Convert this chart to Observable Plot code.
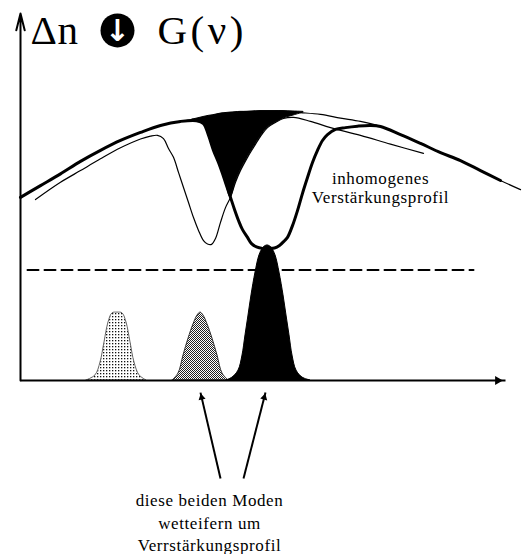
<!DOCTYPE html>
<html>
<head>
<meta charset="utf-8">
<script src="https://cdn.jsdelivr.net/npm/d3@7"></script>
<script src="https://cdn.jsdelivr.net/npm/@observablehq/plot@0.6"></script>
<style>
  html, body { margin: 0; padding: 0; background: #fff; overflow: hidden; }
</style>
</head>
<body>
<div id="chart"></div>
<script>
// Frequency ν in arbitrary units (0–100) and gain / inversion Δn in arbitrary units (0–100).

// Inhomogeneous gain profile G(ν)
const envelopeNu   = [0, 4, 8, 12, 16, 20, 24, 28, 32, 36, 40, 44, 48, 52, 56, 60, 64, 68, 72, 76, 80, 84, 88, 92, 96, 100];
const envelopeGain = [49.9, 53.1, 56.3, 59.7, 62.7, 65.4, 67.6, 69.5, 70.6, 71.5, 72.6, 73.2, 73.4, 73.4, 73.0, 72.5, 71.5, 70.6, 69.2, 67.0, 64.6, 62.1, 59.9, 57.2, 54.5, 52.0];

// Hole burnt by the strong (oscillating) mode
const holeStrongNu   = [35.2, 36.6, 37.6, 38.6, 39.6, 40.4, 41.2, 42.0, 42.8, 43.6, 44.4, 45.4, 46.2, 47.2, 48.4, 49.6, 50.8, 51.8, 52.8, 53.4, 54.4, 55.4, 56.4, 57.4, 58.4, 59.4, 60.4, 61.4, 63.0, 65.0, 67.4, 70.0];
const holeStrongGain = [70.8, 70.0, 66.8, 62.7, 59.4, 56.4, 53.1, 49.9, 46.6, 43.6, 41.1, 39.0, 37.3, 36.4, 36.0, 36.0, 36.1, 36.8, 38.1, 39.0, 42.2, 46.3, 51.0, 55.3, 59.4, 62.7, 65.4, 67.0, 68.4, 68.9, 69.3, 69.5];

// Gain profile with the hole of the neighbouring mode
const holeWeakNu   = [3.0, 8.0, 12.0, 16.0, 20.0, 24.0, 26.0, 27.4, 28.6, 29.6, 30.6, 31.6, 32.6, 33.6, 34.6, 35.6, 36.6, 37.4, 38.2, 39.0, 40.0, 41.0, 42.0, 43.0, 44.0, 45.4, 46.6, 48.0, 49.4, 51.0, 52.6, 54.6, 58.0, 62.0, 68.0, 74.0, 80.6];
const holeWeakGain = [49.3, 54.0, 57.2, 60.4, 63.4, 65.8, 66.6, 66.8, 65.9, 63.2, 60.8, 56.7, 52.6, 48.5, 44.4, 40.9, 38.1, 37.2, 37.1, 38.7, 43.1, 47.1, 49.9, 54.0, 57.2, 60.8, 63.5, 66.5, 68.9, 70.3, 71.4, 71.7, 70.6, 68.9, 66.8, 64.4, 61.9];

// Gain removed by both holes together
const overlapNu   = [34.4, 35.4, 36.6, 37.6, 38.6, 39.6, 40.4, 41.2, 42.0, 43.0, 44.0, 45.4, 46.6, 48.0, 49.4, 51.0, 52.6, 54.6, 56.6];
const overlapLow  = [71.1, 70.8, 70.0, 66.8, 62.7, 59.4, 56.4, 53.1, 49.9, 54.0, 57.2, 60.8, 63.5, 66.5, 68.9, 70.3, 71.4, 72.2, 73.0];
const overlapHigh = [71.1, 71.4, 71.8, 72.1, 72.3, 72.6, 72.8, 72.9, 73.0, 73.1, 73.2, 73.2, 73.3, 73.4, 73.4, 73.4, 73.4, 73.3, 73.2];

// Laser threshold
const thresholdNu   = [1.4, 90.6];
const thresholdGain = [30.1, 30.1];

// Longitudinal modes
const mode1Nu  = [13.2, 15.0, 16.0, 16.8, 17.6, 18.4, 19.4, 20.4, 21.2, 22.0, 22.8, 23.8, 25.2];
const mode1Amp = [0, 1.4, 4.9, 10.4, 15.8, 18.3, 18.5, 18.3, 15.8, 10.4, 4.9, 1.4, 0];
const mode2Nu  = [30.4, 31.6, 32.6, 33.6, 34.6, 35.4, 36.0, 36.6, 37.4, 38.4, 39.4, 40.4, 41.6];
const mode2Amp = [0, 1.9, 6.8, 11.4, 15.3, 17.7, 18.5, 17.7, 15.3, 11.4, 6.8, 1.9, 0];
const mode3Nu  = [41.2, 42.4, 43.6, 44.4, 45.0, 45.6, 46.2, 47.0, 47.8, 48.6, 49.4, 50.2, 51.0, 51.8, 52.6, 53.2, 53.8, 54.4, 55.2, 56.4, 58.0];
const mode3Amp = [0, 0.8, 2.7, 6.8, 12.3, 17.7, 23.2, 29.4, 34.1, 36.2, 36.8, 36.2, 34.1, 29.4, 23.2, 17.7, 12.3, 6.8, 2.7, 0.8, 0];

// Texts
const titleLeft = "Δn";
const titleRight = "G(ν)";
const profileLabel = "inhomogenes\nVerstärkungsprofil";
const captionLabel = "diese beiden Moden\nwetteifern um\nVerrstärkungsprofil";

// ---- layout ----
const W = 523, H = 554;
const M = {left: 20, right: 3, top: 13, bottom: 174};
const pxPerX = (W - M.left - M.right) / 100;
const pxPerY = (H - M.top - M.bottom) / 100;

// ---- tables built from the arrays above ----
const pts = (xs, ys) => xs.map((x, i) => ({x, y: ys[i]}));
const envelope = pts(envelopeNu, envelopeGain);
const holeWeak = pts(holeWeakNu, holeWeakGain);
// the bold profile: envelope outside the strong hole, the hole itself inside
const holeStrong = [
  ...envelope.filter(d => d.x < holeStrongNu[0]),
  ...pts(holeStrongNu, holeStrongGain),
  ...envelope.filter(d => d.x > holeStrongNu[holeStrongNu.length - 1] && d.x <= 96)
];
const overlap = overlapNu.map((x, i) => ({x, low: overlapLow[i], high: overlapHigh[i]}));
const threshold = pts(thresholdNu, thresholdGain);
const mode1 = pts(mode1Nu, mode1Amp);
const mode2 = pts(mode2Nu, mode2Amp);
const mode3 = pts(mode3Nu, mode3Amp);

// axis arrows and the two pointers under the frequency axis
const xAxisArrow = [{x1: 0, y1: 0, x2: 97, y2: 0, r: 6.5}];
const yAxisArrow = [{x1: 0, y1: 0, x2: 0, y2: 100}];
const pointers = [
  {x1: 40.0, y1: -26.7, x2: 36.0, y2: -3.3, r: 4.2},
  {x1: 44.6, y1: -26.7, x2: 49.0, y2: -3.3, r: 4.2}
];

// filled triangular arrow heads: centroid placed behind the tip, rotated along the shaft
function heads(arrows) {
  return arrows.map(a => {
    const vx = (a.x2 - a.x1) * pxPerX, vy = -(a.y2 - a.y1) * pxPerY; // screen space
    const len = Math.hypot(vx, vy), ux = vx / len, uy = vy / len;
    const back = 1.2 * a.r; // apex-to-centroid distance of the triangle symbol
    return {
      x: a.x2 - ux * back / pxPerX,
      y: a.y2 + uy * back / pxPerY,
      r: a.r,
      angle: Math.atan2(ux, -uy) * 180 / Math.PI
    };
  });
}

const serif = "'Liberation Serif', 'Times New Roman', 'DejaVu Serif', serif";

const chart = Plot.plot({
  width: W,
  height: H,
  marginLeft: M.left,
  marginRight: M.right,
  marginTop: M.top,
  marginBottom: M.bottom,
  x: {domain: [0, 100], axis: null},
  y: {domain: [0, 100], axis: null},
  style: {background: "#fff", fontFamily: serif, color: "#000", letterSpacing: "0.6px"},
  marks: [
    // modes
    Plot.areaY(mode1, {x: "x", y: "y", curve: "catmull-rom", fill: "url(#stipple-light)", stroke: "#666", strokeWidth: 1}),
    Plot.areaY(mode2, {x: "x", y: "y", curve: "catmull-rom", fill: "url(#stipple-dense)", stroke: "#333", strokeWidth: 1}),
    Plot.areaY(mode3, {x: "x", y: "y", curve: "catmull-rom", fill: "#000", stroke: "#000", strokeWidth: 1}),
    // threshold
    Plot.line(threshold, {x: "x", y: "y", stroke: "#000", strokeWidth: 2, strokeDasharray: "11,6"}),
    // overlap of both holes
    Plot.areaY(overlap, {x: "x", y1: "low", y2: "high", curve: "catmull-rom", fill: "#000", stroke: "#000", strokeWidth: 1}),
    // gain curves
    Plot.line(envelope, {x: "x", y: "y", curve: "catmull-rom", stroke: "#000", strokeWidth: 1.2}),
    Plot.line(holeWeak, {x: "x", y: "y", curve: "catmull-rom", stroke: "#000", strokeWidth: 1.2}),
    Plot.line(holeStrong, {x: "x", y: "y", curve: "catmull-rom", stroke: "#000", strokeWidth: 3}),
    // axes
    Plot.link(xAxisArrow, {x1: "x1", y1: "y1", x2: "x2", y2: "y2", stroke: "#000", strokeWidth: 2}),
    Plot.dot(heads(xAxisArrow), {x: "x", y: "y", r: "r", rotate: "angle", symbol: "triangle", fill: "#000", stroke: "none"}),
    Plot.arrow(yAxisArrow, {x1: "x1", y1: "y1", x2: "x2", y2: "y2", stroke: "#000", strokeWidth: 2, headLength: 13, headAngle: 28}),
    // pointers to the two competing modes
    Plot.link(pointers, {x1: "x1", y1: "y1", x2: "x2", y2: "y2", stroke: "#000", strokeWidth: 2}),
    Plot.dot(heads(pointers), {x: "x", y: "y", r: "r", rotate: "angle", symbol: "triangle", fill: "#000", stroke: "none"}),
    // labels
    Plot.text([profileLabel], {x: [72], y: [52.5], text: d => d, fontFamily: serif, fontSize: 17, lineHeight: 1.1, textAnchor: "middle", fill: "#000"}),
    Plot.text([captionLabel], {x: [37.8], y: [-38.4], text: d => d, fontFamily: serif, fontSize: 17, lineHeight: 1.3, textAnchor: "middle", fill: "#000"}),
    // y-axis title Δn ⇓ G(ν)
    Plot.text([titleLeft], {x: [2], y: [95.4], text: d => d, fontFamily: serif, fontSize: 41, textAnchor: "start", fill: "#000"}),
    Plot.dot([0], {x: [19.4], y: [95.4], r: 17, fill: "#000", stroke: "none"}),
    Plot.text(["↓"], {x: [19.4], y: [95.4], text: d => d, fontFamily: "DejaVu Sans", fontSize: 30, fontWeight: "bold", textAnchor: "middle", fill: "#fff", dy: 1}),
    Plot.text([titleRight], {x: [27.4], y: [95.4], text: d => d, fontFamily: serif, fontSize: 41, textAnchor: "start", fill: "#000"})
  ]
});

// wider tracking for the ν part of the title
d3.select(chart).selectAll("text")
  .filter(function() { return this.textContent === titleRight; })
  .style("letter-spacing", "3.5px");

// stipple patterns for the two weaker modes
const defs = d3.select(chart).insert("defs", ":first-child");
const light = defs.append("pattern").attr("id", "stipple-light")
  .attr("width", 3).attr("height", 3).attr("patternUnits", "userSpaceOnUse");
light.append("rect").attr("width", 3).attr("height", 3).attr("fill", "#fff");
light.append("rect").attr("x", 1).attr("y", 1).attr("width", 1.3).attr("height", 1.3).attr("fill", "#111");
const dense = defs.append("pattern").attr("id", "stipple-dense")
  .attr("width", 2).attr("height", 2).attr("patternUnits", "userSpaceOnUse");
dense.append("rect").attr("width", 2).attr("height", 2).attr("fill", "#fff");
dense.append("rect").attr("width", 1).attr("height", 1).attr("fill", "#222");
dense.append("rect").attr("x", 1).attr("y", 1).attr("width", 1).attr("height", 1).attr("fill", "#222");

document.getElementById("chart").appendChild(chart);
</script>
</body>
</html>
